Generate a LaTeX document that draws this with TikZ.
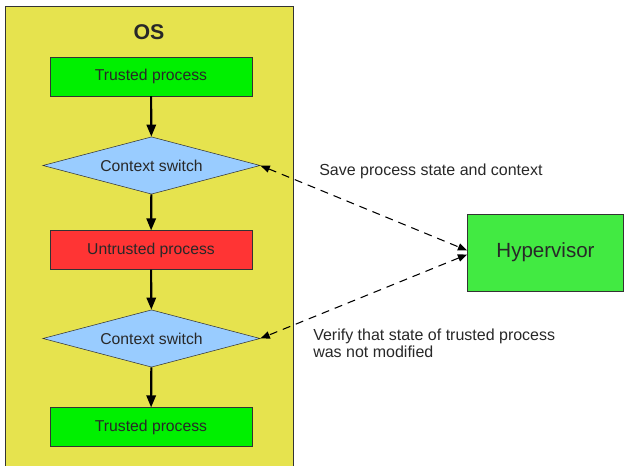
\documentclass[tikz,border=0pt]{standalone}
\usepackage{fontspec}
\setmainfont{Liberation Sans}
\usepackage{xcolor}
\usetikzlibrary{positioning,arrows.meta,shapes.geometric}
\definecolor{osyellow}{RGB}{230,227,78}
\definecolor{trustgreen}{RGB}{0,240,0}
\definecolor{untrustred}{RGB}{255,52,52}
\definecolor{switchblue}{RGB}{153,204,255}
\definecolor{hvgreen}{RGB}{66,234,66}
\definecolor{txt}{RGB}{40,40,40}
\tikzset{
  proc/.style={rectangle, draw=black!80, thin, minimum width=151.5pt, minimum height=29pt, inner sep=0pt, font=\fontsize{11.8}{13}\selectfont, text=txt},
  trusted/.style={proc, fill=trustgreen},
  untrusted/.style={proc, fill=untrustred},
  ctxsw/.style={diamond, draw=black!80, thin, fill=switchblue, aspect=3.8, inner sep=0pt, minimum width=163pt, minimum height=43pt, font=\fontsize{11.8}{13}\selectfont, text=txt},
  hv/.style={rectangle, draw=black!80, thin, fill=hvgreen, minimum width=117pt, minimum height=57.75pt, font=\fontsize{15.4}{17}\selectfont, text=txt},
  flow/.style={draw=black, line width=1.6pt, -{Triangle[length=9pt,width=7pt]}},
  hvlink/.style={draw=black, line width=0.8pt, dash pattern=on 6pt off 4.5pt, {Triangle[length=7pt,width=5.5pt]}-{Triangle[length=7pt,width=5.5pt]}},
  note/.style={anchor=west, align=left, font=\fontsize{12}{12.6}\selectfont, text=txt, inner sep=0pt}
}
\begin{document}
\begin{tikzpicture}[x=0.75pt, y=-0.75pt]
  \useasboundingbox (0,0) rectangle (626,466);

  % OS area (runs off the bottom)
  \draw[draw=black!80, fill=osyellow] (5,6) rectangle (293,480);
  \node[font=\fontsize{16}{18}\selectfont\bfseries, text=txt] (os) at (149,32) {OS};

  % Process chain
  \node[trusted] (tp1) at (151,76.5) {Trusted process};
  \node[ctxsw] (cs1) at (151.5,165.5) {Context switch};
  \node[untrusted] (up) at (151,250) {Untrusted process};
  \node[ctxsw] (cs2) at (151.5,338.5) {Context switch};
  \node[trusted] (tp2) at (151,427) {Trusted process};

  \draw[flow] (tp1) -- (cs1);
  \draw[flow] (cs1) -- (up);
  \draw[flow] (up) -- (cs2);
  \draw[flow] (cs2) -- (tp2);

  % Hypervisor
  \node[hv] (hyp) at (545.5,252.5) {Hypervisor};
  \coordinate (hypin1) at ([yshift=1.5pt]hyp.west);
  \coordinate (hypin2) at ([yshift=-1.5pt]hyp.west);

  \draw[hvlink] (cs1.east) -- (hypin1);
  \draw[hvlink] (hypin2) -- (cs2.east);

  % Link labels
  \node[note] (save) at (319,171) {Save process state and context};
  \node[note] (verify) at (313,343.5) {Verify that state of trusted process\\was not modified};
\end{tikzpicture}
\end{document}
